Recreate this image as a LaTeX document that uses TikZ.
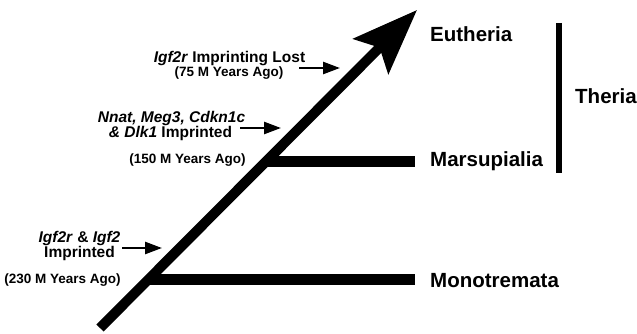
\documentclass[tikz,border=0pt]{standalone}
\usepackage{fontspec}
\setmainfont{Liberation Sans}
\usetikzlibrary{arrows.meta}
\begin{document}
\begin{tikzpicture}[x=1pt,y=-1pt]
    \tikzset{
      taxon/.style={font=\fontsize{20.5}{24}\selectfont\bfseries,anchor=base west,inner sep=0},
      event/.style={font=\fontsize{15.5}{18}\selectfont\bfseries,anchor=base,inner sep=0},
      age/.style={font=\fontsize{13.5}{16}\selectfont\bfseries,anchor=base,inner sep=0},
      branch/.style={line width=11pt},
      pointer/.style={line width=2.5pt,-{Triangle[length=17pt,width=12pt]}}
    }
    \useasboundingbox (0,0) rectangle (637,334);

        %MAIN LINE
        \coordinate (root) at (100,328);
        \coordinate (tip) at (417,10);
        \draw[line width=10pt,-{Stealth[length=65pt,width=49pt,inset=12pt]}] (root) -- (tip);

        %BRANCHES
        \coordinate (mono0) at (148,279.5);
        \coordinate (mono1) at (415,279.5);
        \coordinate (mars0) at (266,161);
        \coordinate (mars1) at (415,161);
        \draw[branch] (mono0) -- (mono1);
        \draw[branch] (mars0) -- (mars1);

        %THERIA
        \coordinate (th0) at (558.5,23);
        \coordinate (th1) at (558.5,173);
        \draw[line width=6pt] (th0) -- (th1);

    \node[taxon] (euth) at (430,42) {Eutheria};
    \node[taxon] (mars) at (430,167) {Marsupialia};
    \node[taxon] (mono) at (430,287) {Monotremata};
    \node[taxon] (ther) at (575,104) {Theria};

    \node[event] (lost) at (229.5,63) {\textit{Igf2r} Imprinting Lost};
    \node[age] (lostage) at (229,77) {(75 M Years Ago)};
    \node[event] (genes) at (171.5,123) {\textit{Nnat, Meg3, Cdkn1c}};
    \node[event] (genesb) at (170.5,138) {\textit{\& Dlk1} Imprinted};
    \node[age] (genesage) at (187.5,164) {(150 M Years Ago)};
    \node[event] (igf) at (79.5,242) {\textit{Igf2r} \& \textit{Igf2}};
    \node[event] (igfb) at (79.5,257) {Imprinted};
    \node[age] (igfage) at (62.5,283) {(230 M Years Ago)};

      \coordinate (lostA) at (299,68);
      \coordinate (lostB) at (340,68);
      \coordinate (genesA) at (240,128);
      \coordinate (genesB) at (281,128);
      \coordinate (igfA) at (122,248);
      \coordinate (igfB) at (162,248);
      \draw[pointer] (lostA) -- (lostB);
      \draw[pointer] (genesA) -- (genesB);
      \draw[pointer] (igfA) -- (igfB);
\end{tikzpicture}
\end{document}
